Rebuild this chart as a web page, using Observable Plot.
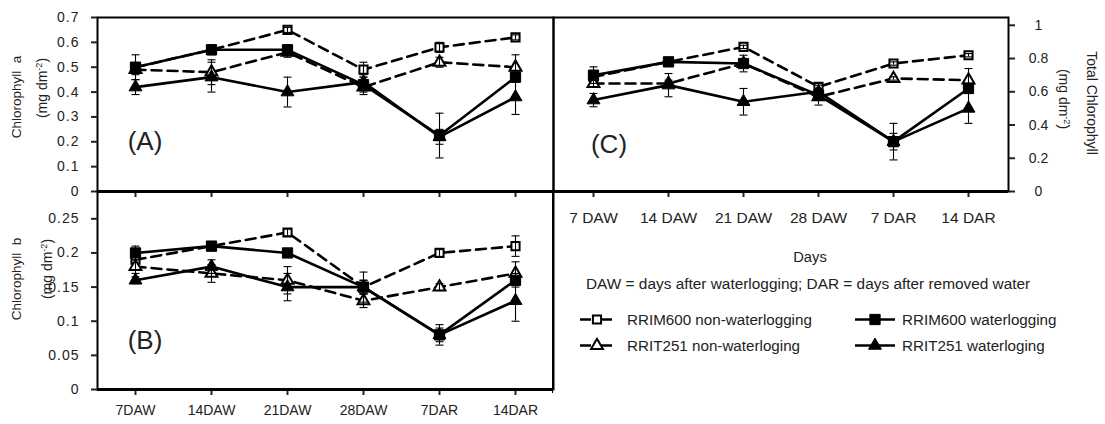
<!DOCTYPE html>
<html><head><meta charset="utf-8">
<script src="https://cdn.jsdelivr.net/npm/d3@7"></script>
<script src="https://cdn.jsdelivr.net/npm/@observablehq/plot@0.6"></script>
<style>
body{margin:0;background:#fff;}
#wrap{position:relative;width:1105px;height:424px;font-family:"Liberation Sans",Arial,sans-serif;color:#222;overflow:hidden;background:#fff;}
#wrap svg{position:absolute;left:0;top:0;}
.t{position:absolute;white-space:nowrap;line-height:1;}
.c{transform:translate(-50%,-50%);}
.rl{transform:translate(-50%,-50%) rotate(-90deg);}
.rr{transform:translate(-50%,-50%) rotate(90deg);}
sup{font-size:0.65em;vertical-align:0.55em;line-height:0;}
.lg{position:absolute;display:flex;align-items:center;font-size:15.2px;transform:translateY(-50%);}
.lg svg{position:static !important;margin-right:0;}
</style></head><body><div id="wrap"></div>
<script>
// ---- categories / tick labels ----
const days  = ["7DAW","14DAW","21DAW","28DAW","7DAR","14DAR"];
const daysC = ["7 DAW","14 DAW","21 DAW","28 DAW","7 DAR","14 DAR"];
const seriesNames = ["RRIM600 non-waterlogging","RRIT251 non-waterloging","RRIM600 waterlogging","RRIT251 waterloging"];
const ticksA = [0,0.1,0.2,0.3,0.4,0.5,0.6,0.7];
const ticksB = [0,0.05,0.1,0.15,0.2,0.25];
const ticksC = [0,0.2,0.4,0.6,0.8,1];

// ---- (A) Chlorophyll a ----
const aRRIM600non = [0.50,0.57,0.65,0.49,0.58,0.62];
const aRRIT251non = [0.49,0.48,0.56,0.42,0.52,0.50];
const aRRIM600wl  = [0.50,0.57,0.57,0.43,0.225,0.46];
const aRRIT251wl  = [0.42,0.46,0.40,0.44,0.22,0.38];
const eaRRIM600non = [0.01,0.01,0.01,0.03,0.02,0.01];
const eaRRIT251non = [0.02,0.05,0.02,0.02,0.02,0.05];
const eaRRIM600wl  = [0.05,0.02,0.02,0.04,0.09,0.02];
const eaRRIT251wl  = [0.03,0.06,0.06,0.02,0.03,0.07];

// ---- (B) Chlorophyll b ----
const bRRIM600non = [0.19,0.21,0.23,0.15,0.20,0.21];
const bRRIT251non = [0.18,0.17,0.16,0.13,0.15,0.17];
const bRRIM600wl  = [0.20,0.21,0.20,0.15,0.08,0.16];
const bRRIT251wl  = [0.16,0.18,0.15,0.15,0.08,0.13];
const ebRRIM600non = [0.005,0.005,0.005,0.01,0.005,0.015];
const ebRRIT251non = [0.01,0.013,0.02,0.01,0.005,0.017];
const ebRRIM600wl  = [0.01,0.005,0.005,0.022,0.015,0.01];
const ebRRIT251wl  = [0.005,0.01,0.02,0.01,0.01,0.03];

// ---- (C) Total chlorophyll ----
const cRRIM600non = [0.69,0.78,0.87,0.63,0.77,0.82];
const cRRIT251non = [0.65,0.65,0.77,0.57,0.68,0.67];
const cRRIM600wl  = [0.70,0.78,0.77,0.58,0.30,0.62];
const cRRIT251wl  = [0.55,0.64,0.54,0.60,0.30,0.50];
const ecRRIM600non = [0.01,0.01,0.01,0.02,0.01,0.01];
const ecRRIT251non = [0.02,0.02,0.02,0.02,0.01,0.07];
const ecRRIM600wl  = [0.05,0.01,0.05,0.06,0.11,0.03];
const ecRRIT251wl  = [0.04,0.07,0.08,0.02,0.05,0.09];

// series styling (order = draw order)
const seriesStyle = [
  {symbol:"square",   fill:"white", dashed:true,  r:4.6},
  {symbol:"triangle", fill:"white", dashed:true,  r:4.4},
  {symbol:"square",   fill:"black", dashed:false, r:5.8},
  {symbol:"triangle", fill:"black", dashed:false, r:4.8}
];

const capSymbol = {draw(ctx, size){ const w = Math.sqrt(size); ctx.moveTo(-w/2,0); ctx.lineTo(w/2,0); }};

function toRows(vals, errs){
  return vals.flatMap((arr, s) => arr.map((v, i) => ({day: days[i], value: v, err: errs[s][i], s})));
}

function panel(o){
  const data = toRows(o.vals, o.errs);
  const marks = [
    Plot.frame({stroke:"black", strokeWidth:2}),
    Plot.axisY({ticks:o.yTicks, anchor:o.yAnchor, tickSize:6, tickPadding:o.yPad, tickFormat:d=>String(d),
      fontSize:o.yFont, strokeWidth:2, label:null, textAnchor:o.yTextAnchor}),
    Plot.axisX({tickSize:6, tickPadding:o.xPad, tickFormat:o.xFormat, fontSize:o.xFont, strokeWidth:2, label:null}),
    Plot.ruleY([0], {stroke:"black", strokeWidth:3}),
    Plot.line(data.filter(d=>seriesStyle[d.s].dashed), {x:"day", y:"value", z:"s", stroke:"black", strokeWidth:2.6, strokeDasharray:"10,6"}),
    Plot.line(data.filter(d=>!seriesStyle[d.s].dashed), {x:"day", y:"value", z:"s", stroke:"black", strokeWidth:2.6})
  ];
  seriesStyle.forEach((st, k) => {
    const sd = data.filter(d=>d.s===k);
    marks.push(Plot.dot(sd, {x:"day", y:"value", symbol:st.symbol, r:st.r, fill:st.fill, stroke:"black", strokeWidth: st.fill==="white" ? 2 : 1}));
    const ed = sd.filter(d=>d.err>0);
    marks.push(Plot.ruleX(ed, {x:"day", y1:d=>d.value-d.err, y2:d=>d.value+d.err, stroke:"black", strokeWidth:1.1}));
    marks.push(Plot.dot(ed, {x:"day", y:d=>d.value+d.err, symbol:capSymbol, r:4.5, stroke:"black", strokeWidth:1.1}));
    marks.push(Plot.dot(ed, {x:"day", y:d=>d.value-d.err, symbol:capSymbol, r:4.5, stroke:"black", strokeWidth:1.1}));
  });
  const svg = Plot.plot({
    width:1105, height:424,
    marginLeft:o.m[0], marginRight:o.m[1], marginTop:o.m[2], marginBottom:o.m[3],
    style:{background:"transparent", overflow:"visible", fontFamily:'"Liberation Sans", Arial, sans-serif', color:"#222"},
    x:{type:"point", domain:days, padding:0.5},
    y:{domain:o.yDomain},
    marks
  });
  if (o.ySpacing) d3.select(svg).selectAll('g[aria-label="y-axis tick label"] text').style("letter-spacing", o.ySpacing);
  return svg;
}

const wrap = document.getElementById("wrap");

wrap.appendChild(panel({
  vals:[aRRIM600non,aRRIT251non,aRRIM600wl,aRRIT251wl],
  errs:[eaRRIM600non,eaRRIT251non,eaRRIM600wl,eaRRIT251wl],
  yDomain:[0,0.7], yTicks:ticksA, yAnchor:"left", yPad:12, yFont:14, ySpacing:"1px",
  xPad:4, xFont:13, xFormat:()=>"",
  m:[97, 552, 17, 233]
}));
wrap.appendChild(panel({
  vals:[bRRIM600non,bRRIT251non,bRRIM600wl,bRRIT251wl],
  errs:[ebRRIM600non,ebRRIT251non,ebRRIM600wl,ebRRIT251wl],
  yDomain:[0,0.29], yTicks:ticksB, yAnchor:"left", yPad:12, yFont:14, ySpacing:"1px",
  xPad:10, xFont:14, xFormat:d=>d,
  m:[97, 552, 191, 35]
}));
wrap.appendChild(panel({
  vals:[cRRIM600non,cRRIT251non,cRRIM600wl,cRRIT251wl],
  errs:[ecRRIM600non,ecRRIT251non,ecRRIM600wl,ecRRIT251wl],
  yDomain:[0,1.047], yTicks:ticksC, yAnchor:"right", yPad:24, yFont:14, yTextAnchor:"middle",
  xPad:14, xFont:15.5, xFormat:d=>daysC[days.indexOf(d)],
  m:[553, 97, 17, 233]
}));

// extra vertical rule continuing panel C's left edge
const vl = document.createElement("div");
vl.style.cssText = "position:absolute;left:552px;top:191px;width:0;height:202px;border-left:1.5px solid #000;";
wrap.appendChild(vl);

function addText(html, cls, x, y, size){
  const d = document.createElement("div");
  d.className = "t " + cls;
  d.style.left = x + "px"; d.style.top = y + "px"; d.style.fontSize = size + "px";
  d.innerHTML = html;
  wrap.appendChild(d);
}
addText("Chlorophyll&nbsp; a", "rl", 17, 97, 13.5);
addText("(mg dm<sup>-2</sup>)", "rl", 42, 88, 14);
addText("Chlorophyll&nbsp; b", "rl", 17, 279, 13.5);
addText("(mg dm<sup>-2</sup>)", "rl", 47, 269, 14);
addText("Total Chlorophyll", "rr", 1092, 103, 14);
addText("(mg dm<sup>-2</sup>)", "rr", 1064, 99, 14);
addText("(A)", "c", 145, 141, 26);
addText("(B)", "c", 145, 340, 26);
addText("(C)", "c", 609, 144, 26);
addText("Days", "c", 810, 257, 14.7);
addText("DAW = days after waterlogging; DAR = days after removed water", "", 586, 276, 15.4);

// legend
function swatch(st){
  const ns = "http://www.w3.org/2000/svg";
  const svg = document.createElementNS(ns, "svg");
  const w = st.dashed ? 32 : 40, h = 16, cx = st.dashed ? 17 : 20;
  svg.setAttribute("width", w); svg.setAttribute("height", h);
  const path = d3.symbol(st.symbol === "square" ? d3.symbolSquare : d3.symbolTriangle, Math.PI*st.r*st.r)();
  const ln = st.dashed
    ? `<line x1="0" x2="11" y1="8" y2="8" stroke="#000" stroke-width="2.6"/><line x1="${cx}" x2="${w}" y1="8" y2="8" stroke="#000" stroke-width="2.6"/>`
    : `<line x1="0" x2="${w}" y1="8" y2="8" stroke="#000" stroke-width="2.6"/>`;
  svg.innerHTML = ln + `<path d="${path}" transform="translate(${cx},8)" fill="${st.fill}" stroke="#000" stroke-width="${st.fill==="white"?2:1}"/>`;
  return svg;
}
const legendPos = [[580,319,627],[580,345,627],[855,319,902],[855,345,902]];
seriesStyle.forEach((st,k)=>{
  const [x,y,tx] = legendPos[k];
  const d = document.createElement("div");
  d.className = "lg"; d.style.left = x + "px"; d.style.top = y + "px";
  const sw = swatch(st);
  sw.style.marginRight = (tx - x - (st.dashed?32:40)) + "px";
  d.appendChild(sw);
  const sp = document.createElement("span"); sp.textContent = seriesNames[k];
  d.appendChild(sp);
  wrap.appendChild(d);
});
</script></body></html>
